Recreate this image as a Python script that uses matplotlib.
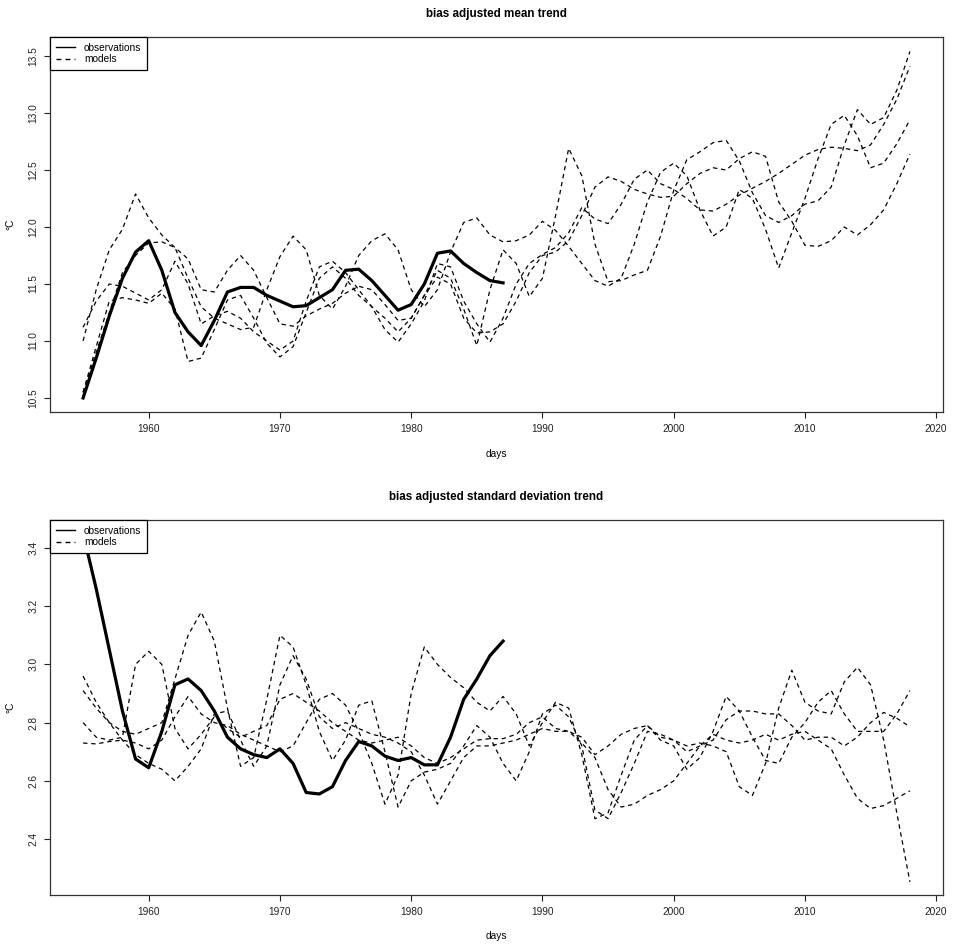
import numpy as np
import matplotlib
matplotlib.use('Agg')
import matplotlib.pyplot as plt
from matplotlib.lines import Line2D

plt.rcParams['font.family'] = ['Liberation Sans', 'DejaVu Sans']

# yearly values
years = np.arange(1955, 2019)
obs_years = np.arange(1955, 1988)

mean_obs = [10.5, 10.85, 11.22, 11.55, 11.78, 11.88, 11.62, 11.25, 11.08, 10.96,
            11.18, 11.43, 11.47, 11.47, 11.4, 11.35, 11.3, 11.31, 11.38, 11.45,
            11.62, 11.63, 11.53, 11.4, 11.27, 11.32, 11.5, 11.77, 11.79, 11.68,
            11.6, 11.53, 11.51]

mean_mod1 = [11.0, 11.45, 11.8, 11.98, 12.29, 12.08, 11.93, 11.82, 11.72, 11.45,
             11.43, 11.62, 11.75, 11.62, 11.38, 11.15, 11.13, 11.22, 11.28, 11.33,
             11.42, 11.48, 11.45, 11.32, 11.18, 11.2, 11.4, 11.62, 11.55, 11.28,
             10.96, 11.45, 11.8, 11.68, 11.39, 11.55, 12.1, 12.69, 12.45, 11.85,
             11.52, 11.53, 11.58, 11.62, 11.92, 12.32, 12.59, 12.66, 12.74, 12.76,
             12.58, 12.3, 12.1, 12.04, 12.1, 12.2, 12.23, 12.35, 12.72, 13.03,
             12.9, 12.96, 13.2, 13.54]
mean_mod2 = [11.12, 11.35, 11.5, 11.48, 11.42, 11.36, 11.45, 11.7, 11.5, 11.15,
             11.22, 11.26, 11.2, 11.08, 11.0, 10.92, 11.0, 11.35, 11.65, 11.7,
             11.6, 11.45, 11.3, 11.1, 10.99, 11.15, 11.35, 11.68, 11.65, 11.35,
             11.15, 10.99, 11.2, 11.5, 11.68, 11.76, 11.82, 11.95, 12.17, 12.07,
             12.03, 12.2, 12.42, 12.5, 12.38, 12.33, 12.25, 12.15, 12.14, 12.2,
             12.28, 12.34, 12.4, 12.47, 12.55, 12.63, 12.68, 12.7, 12.69, 12.67,
             12.72, 12.9, 13.12, 13.41]
mean_mod3 = [10.55, 10.9, 11.25, 11.6, 11.75, 11.86, 11.87, 11.82, 11.55, 11.3,
             11.2, 11.15, 11.1, 11.12, 11.45, 11.74, 11.92, 11.8, 11.4, 11.28,
             11.48, 11.75, 11.88, 11.94, 11.8, 11.45, 11.3, 11.45, 11.78, 12.04,
             12.08, 11.93, 11.87, 11.88, 11.93, 12.05, 11.97, 11.83, 11.68, 11.53,
             11.48, 11.55, 11.85, 12.22, 12.48, 12.56, 12.45, 12.15, 11.92, 12.0,
             12.33, 12.25, 11.98, 11.64, 11.95, 12.25, 12.6, 12.9, 12.98, 12.8,
             12.52, 12.56, 12.73, 12.94]
mean_mod4 = [10.55, 10.95, 11.35, 11.38, 11.36, 11.33, 11.42, 11.28, 10.82, 10.85,
             11.1, 11.36, 11.4, 11.2, 10.98, 10.86, 10.95, 11.25, 11.55, 11.65,
             11.55, 11.4, 11.3, 11.2, 11.08, 11.2, 11.4, 11.56, 11.5, 11.2,
             11.07, 11.08, 11.15, 11.35, 11.6, 11.75, 11.78, 11.88, 12.1, 12.35,
             12.44, 12.4, 12.33, 12.29, 12.26, 12.27, 12.38, 12.47, 12.52, 12.5,
             12.6, 12.66, 12.62, 12.22, 12.05, 11.84, 11.83, 11.88, 12.0, 11.93,
             12.02, 12.15, 12.38, 12.64]

sd_obs = [3.45, 3.26, 3.05, 2.84, 2.675, 2.645, 2.77, 2.93, 2.95, 2.91,
          2.84, 2.75, 2.71, 2.69, 2.68, 2.71, 2.66, 2.56, 2.555, 2.58,
          2.67, 2.735, 2.72, 2.685, 2.67, 2.68, 2.655, 2.655, 2.75, 2.88,
          2.95, 3.03, 3.08]

sd_mod1 = [2.96, 2.87, 2.8, 2.74, 2.69, 2.66, 2.64, 2.6, 2.65, 2.71,
           2.83, 2.84, 2.74, 2.65, 2.72, 2.93, 3.03, 2.95, 2.82, 2.78,
           2.8, 2.78, 2.76, 2.75, 2.73, 2.7, 2.62, 2.52, 2.6, 2.68,
           2.72, 2.72, 2.73, 2.74, 2.76, 2.78, 2.77, 2.77, 2.75, 2.69,
           2.72, 2.76, 2.78, 2.79, 2.75, 2.74, 2.7, 2.72, 2.74, 2.81,
           2.84, 2.84, 2.83, 2.83, 2.79, 2.74, 2.75, 2.75, 2.72, 2.75,
           2.8, 2.835, 2.815, 2.786]
sd_mod2 = [2.91, 2.85, 2.8, 2.77, 2.76, 2.78, 2.8, 2.95, 3.1, 3.18,
           3.08, 2.85, 2.65, 2.68, 2.88, 3.1, 3.06, 2.93, 2.77, 2.67,
           2.74, 2.86, 2.875, 2.7, 2.51, 2.6, 2.63, 2.64, 2.66, 2.72,
           2.79, 2.75, 2.66, 2.6, 2.7, 2.83, 2.86, 2.82, 2.72, 2.5,
           2.47, 2.56, 2.66, 2.77, 2.76, 2.74, 2.72, 2.73, 2.72, 2.7,
           2.58, 2.55, 2.66, 2.85, 2.98, 2.87, 2.84, 2.83, 2.94, 2.99,
           2.93, 2.74, 2.49, 2.253]
sd_mod3 = [2.8, 2.75, 2.74, 2.75, 3.0, 3.045, 3.0, 2.78, 2.71, 2.76,
           2.82, 2.78, 2.75, 2.77, 2.79, 2.88, 2.9, 2.87, 2.84, 2.8,
           2.77, 2.74, 2.73, 2.74, 2.75, 2.72, 2.68, 2.66, 2.68, 2.71,
           2.74, 2.745, 2.745, 2.76, 2.8, 2.82, 2.78, 2.77, 2.73, 2.68,
           2.57, 2.51, 2.52, 2.55, 2.57, 2.6, 2.66, 2.72, 2.76, 2.74,
           2.73, 2.74, 2.76, 2.74, 2.76, 2.77, 2.74, 2.71, 2.62, 2.54,
           2.505, 2.515, 2.54, 2.566]
sd_mod4 = [2.73, 2.727, 2.735, 2.74, 2.73, 2.71, 2.74, 2.82, 2.89, 2.83,
           2.8, 2.79, 2.76, 2.74, 2.72, 2.7, 2.72, 2.8, 2.88, 2.9,
           2.86, 2.77, 2.66, 2.52, 2.62, 2.9, 3.06, 3.0, 2.955, 2.92,
           2.87, 2.84, 2.89, 2.83, 2.72, 2.8, 2.87, 2.85, 2.69, 2.47,
           2.49, 2.62, 2.74, 2.79, 2.74, 2.72, 2.64, 2.68, 2.77, 2.89,
           2.84, 2.75, 2.67, 2.66, 2.75, 2.8, 2.87, 2.91, 2.83, 2.77,
           2.77, 2.77, 2.83, 2.91]

xticks = [1960, 1970, 1980, 1990, 2000, 2010, 2020]
mean_yticks = [10.5, 11.0, 11.5, 12.0, 12.5, 13.0, 13.5]
sd_yticks = [2.4, 2.6, 2.8, 3.0, 3.2, 3.4]

W, H = 957.0, 944.0
fs = 7.3

fig = plt.figure(figsize=(9.57, 9.44), dpi=100)


def panel(top, bottom, obs, models, yticks, ylim, title, title_y, xlab_y):
    ax = fig.add_axes([50 / W, 1 - bottom / H, 893 / W, (bottom - top) / H])
    ax.plot(obs_years, obs, color='black', lw=2.3, zorder=2,
            solid_joinstyle='round')
    for m in models:
        ax.plot(years, m, color='black', lw=0.9, linestyle=(0, (3.5, 3)),
                zorder=3, dash_joinstyle='round')
    ax.set_xlim(1952.48, 2020.52)
    ax.set_ylim(*ylim)
    ax.set_xticks(xticks)
    ax.set_yticks(yticks)
    ax.set_yticklabels(['%.1f' % v for v in yticks])
    ax.tick_params(direction='out', length=4.2, width=0.8, labelsize=fs, pad=4.2,
                   color='#222222', labelcolor='#222222')
    for lbl in ax.get_yticklabels():
        lbl.set_rotation(90)
        lbl.set_va('center')
    for s in ax.spines.values():
        s.set_linewidth(0.9)
        s.set_color('#333333')
    handles = [Line2D([], [], color='black', lw=1.0),
               Line2D([], [], color='black', lw=1.0, linestyle=(0, (3.5, 3)))]
    leg = ax.legend(handles, ['observations', 'models'], loc='upper left',
                    bbox_to_anchor=(0, 1), borderaxespad=0, fontsize=fs,
                    fancybox=False, framealpha=1, edgecolor='black',
                    handlelength=1.9, handletextpad=0.9, borderpad=0.55,
                    labelspacing=0.15)
    leg.get_frame().set_linewidth(0.9)
    fig.text(496 / W, 1 - title_y / H, title, ha='center', va='center',
             fontsize=8.4, fontweight='bold')
    fig.text(496 / W, 1 - xlab_y / H, 'days', ha='center', va='center', fontsize=fs)
    fig.text(10 / W, 1 - (top + bottom) / 2 / H, '°C', rotation=90,
             ha='center', va='center', fontsize=fs)
    return ax


panel(37, 412, mean_obs, [mean_mod1, mean_mod2, mean_mod3, mean_mod4],
      mean_yticks, (10.377, 13.667), 'bias adjusted mean trend', 14, 454)
panel(520, 895, sd_obs, [sd_mod1, sd_mod2, sd_mod3, sd_mod4],
      sd_yticks, (2.208, 3.496), 'bias adjusted standard deviation trend', 497, 936)

fig.savefig('out.png', dpi=100)
